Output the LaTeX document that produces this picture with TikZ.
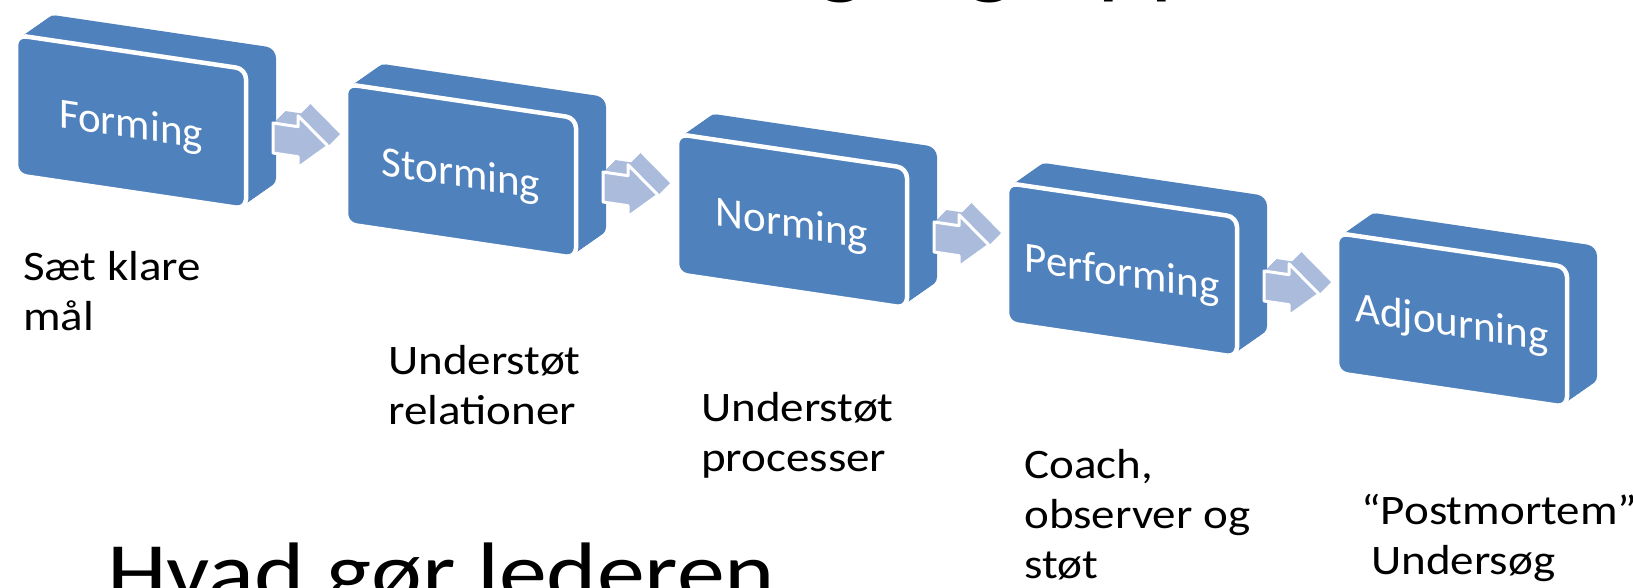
\documentclass[tikz,border=0pt]{standalone}
\usepackage{fontspec}
\setmainfont{Carlito}
\newfontfamily\labelfont{Carlito}[FakeStretch=1.12]
\newfontfamily\bigfont{Carlito}[FakeStretch=1.155]

\definecolor{blockblue}{RGB}{79,129,189}
\definecolor{arrowblue}{RGB}{170,187,220}

\tikzset{
  blocktext/.style={text=white, inner sep=0pt, font=\fontsize{43}{50}\selectfont},
  note/.style={text=black, inner sep=0pt, align=left, font=\labelfont\fontsize{42}{50}\selectfont},
  bigtext/.style={text=black, inner sep=0pt, font=\bigfont\fontsize{83}{90}\selectfont},
}

% one stage: extruded slab, white-edged front face and its label
\newcommand\stageblock[4]{%
  \foreach \t in {18,17,...,1} {
    \begin{scope}[shift={(#2+30*\t/18,#3-21*\t/18)}, yslant=-0.148]
      \fill[blockblue, rounded corners=10pt] (0,0) rectangle (230,140);
    \end{scope}
  }
  \begin{scope}[shift={(#2,#3)}, yslant=-0.148]
    \draw[white, line width=4.5pt, fill=blockblue, rounded corners=10pt] (0,0) rectangle (230,140);
    \node[blocktext, transform shape] (#1) at (115,75) {#4};
  \end{scope}
}

% block arrow between two stages
\newcommand\stagearrow[2]{%
  \foreach \t in {12,11,...,1} {
    \begin{scope}[shift={(#1+12*\t/12,#2-12*\t/12)}, yslant=-0.148]
      \fill[arrowblue] (0,-15) -- (25,-15) -- (25,-26) -- (55,0) -- (25,26) -- (25,15) -- (0,15) -- cycle;
    \end{scope}
  }
  \begin{scope}[shift={(#1,#2)}, yslant=-0.148]
    \draw[white, line width=3pt, line join=round, fill=arrowblue]
      (0,-15) -- (25,-15) -- (25,-26) -- (55,0) -- (25,26) -- (25,15) -- (0,15) -- cycle;
  \end{scope}
}

\begin{document}
\begin{tikzpicture}[x=1pt, y=-1pt]
  \useasboundingbox (0,0) rectangle (1633,587);
  \clip (0,0) rectangle (1633,587);
  \fill[white] (0,0) rectangle (1633,587);

  % heading, only its descenders fall inside the frame
  \node[text=black, inner sep=0pt, font=\labelfont\fontsize{90}{100}\selectfont, anchor=base west] (heading)
    at (817,-13) {g\hspace{102pt}g\hspace{83pt}pp};

  \stageblock{forming}{16}{35}{Forming}
  \stageblock{storming}{346}{84}{Storming}
  \stageblock{norming}{677}{134}{Norming}
  \stageblock{performing}{1007}{183}{Performing}
  \stageblock{adjourning}{1337}{233}{Adjourning}

  \stagearrow{273}{138}
  \stagearrow{603}{187}
  \stagearrow{934}{237}
  \stagearrow{1264}{286}

  % what the leader does in each stage (anchored on the last line)
  \node[note, anchor=base west] (t1) at (23,330) {Sæt klare\\mål};
  \node[note, anchor=base west] (t2) at (388,424) {Understøt\\relationer};
  \node[note, anchor=base west] (t3) at (701,471) {Understøt\\processer};
  \node[note, anchor=base west] (t4) at (1024,578) {Coach,\\observer og\\støt};
  \node[note, anchor=base west] (t5) at (1361,574) {“Postmortem”\\\hspace{10pt}Undersøg};

  \node[bigtext, anchor=base west] (leader) at (107,600) {Hvad gør lederen};
\end{tikzpicture}
\end{document}
